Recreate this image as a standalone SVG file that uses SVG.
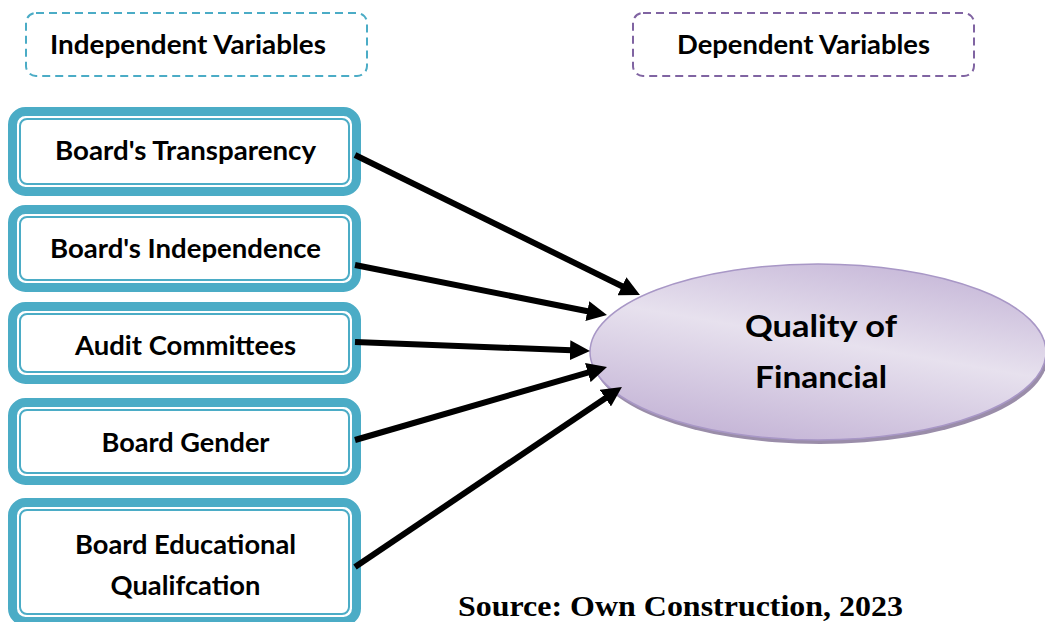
<svg xmlns="http://www.w3.org/2000/svg" width="1045" height="622" viewBox="0 0 1045 622">
  <style>
    .hdr { font-family: Lato, "Liberation Sans", sans-serif; font-weight: 700; font-size: 26px; fill: #000; }
    .lbl { font-family: Lato, "Liberation Sans", sans-serif; font-weight: 700; font-size: 26px; fill: #000; text-anchor: middle; }
    .big { font-family: Lato, "Liberation Sans", sans-serif; font-weight: 700; font-size: 31px; fill: #000; text-anchor: middle; }
    .src { font-family: "Liberation Serif", "Times New Roman", serif; font-weight: 700; font-size: 29px; fill: #000; }
    .outer { fill: #ffffff; stroke: #4BACC6; stroke-width: 9; }
    .inner { fill: none; stroke: #4BACC6; stroke-width: 2; }
    .dash-ind { fill: #ffffff; stroke: #4BACC6; stroke-width: 2; stroke-dasharray: 8 5; }
    .dash-dep { fill: #ffffff; stroke: #8064A2; stroke-width: 2; stroke-dasharray: 8 5; }
    .arrow { stroke: #000; stroke-width: 6; fill: none; marker-end: url(#head); }
  </style>
  <defs>
    <marker id="head" markerUnits="userSpaceOnUse" markerWidth="20" markerHeight="20" refX="8" refY="10" orient="auto">
      <path d="M0,0 L20,10 L0,20 z" fill="#000"/>
    </marker>
    <linearGradient id="ovalFill" x1="0.75" y1="0" x2="0.3" y2="1">
      <stop offset="0" stop-color="#C6B7D8"/>
      <stop offset="0.45" stop-color="#E7E1EE"/>
      <stop offset="1" stop-color="#C4B4D6"/>
    </linearGradient>
  </defs>

  <rect width="1045" height="622" fill="#ffffff"/>

  <!-- column headers -->
  <g id="header-independent">
    <rect class="dash-ind" x="26" y="13" width="341" height="63" rx="10"/>
    <text class="hdr" x="50" y="54" textLength="276" lengthAdjust="spacingAndGlyphs">Independent Variables</text>
  </g>
  <g id="header-dependent">
    <rect class="dash-dep" x="633" y="13" width="341" height="63" rx="10"/>
    <text class="hdr" x="677" y="54" textLength="253" lengthAdjust="spacingAndGlyphs">Dependent Variables</text>
  </g>

  <!-- independent variable boxes -->
  <g id="board-transparency">
    <rect class="outer" x="12.5" y="111.5" width="344" height="80" rx="13"/>
    <rect class="inner" x="20" y="119" width="329" height="65" rx="7"/>
    <text class="lbl" x="185.5" y="160" textLength="261" lengthAdjust="spacingAndGlyphs">Board's Transparency</text>
  </g>
  <g id="board-independence">
    <rect class="outer" x="12.5" y="209.5" width="344" height="78" rx="13"/>
    <rect class="inner" x="20" y="217" width="329" height="63" rx="7"/>
    <text class="lbl" x="185.5" y="258" textLength="271" lengthAdjust="spacingAndGlyphs">Board's Independence</text>
  </g>
  <g id="audit-committees">
    <rect class="outer" x="12.5" y="306.5" width="344" height="73" rx="13"/>
    <rect class="inner" x="20" y="314" width="329" height="58" rx="7"/>
    <text class="lbl" x="185.5" y="355" textLength="221" lengthAdjust="spacingAndGlyphs">Audit Committees</text>
  </g>
  <g id="board-gender">
    <rect class="outer" x="12.5" y="402.5" width="344" height="78" rx="13"/>
    <rect class="inner" x="20" y="410" width="329" height="63" rx="7"/>
    <text class="lbl" x="185.5" y="452" textLength="168" lengthAdjust="spacingAndGlyphs">Board Gender</text>
  </g>
  <g id="board-education">
    <rect class="outer" x="12.5" y="502.5" width="344" height="119" rx="13"/>
    <rect class="inner" x="20" y="510" width="329" height="104" rx="7"/>
    <text class="lbl" x="185.5" y="554" textLength="221" lengthAdjust="spacingAndGlyphs">Board Educational</text>
    <text class="lbl" x="185.5" y="595" textLength="150" lengthAdjust="spacingAndGlyphs">Qualifcation</text>
  </g>

  <!-- dependent variable -->
  <g id="quality-financial">
    <ellipse cx="820" cy="356" rx="228" ry="88" fill="#9A8DA9"/>
    <ellipse cx="818" cy="352" rx="228" ry="88" fill="url(#ovalFill)" stroke="#A897C6" stroke-width="1.5"/>
    <text class="big" x="821" y="337" textLength="152" lengthAdjust="spacingAndGlyphs">Quality of</text>
    <text class="big" x="821" y="388" textLength="132" lengthAdjust="spacingAndGlyphs">Financial</text>
  </g>

  <!-- connectors -->
  <g id="connectors">
    <line class="arrow" x1="355" y1="155" x2="629.2" y2="289.7"/>
    <line class="arrow" x1="355" y1="265" x2="595.2" y2="312.7"/>
    <line class="arrow" x1="355" y1="342" x2="578" y2="350.5"/>
    <line class="arrow" x1="355" y1="440" x2="595.5" y2="370.3"/>
    <line class="arrow" x1="355" y1="567" x2="612" y2="393.7"/>
  </g>

  <text class="src" x="458" y="616" textLength="445" lengthAdjust="spacingAndGlyphs">Source: Own Construction, 2023</text>
</svg>
